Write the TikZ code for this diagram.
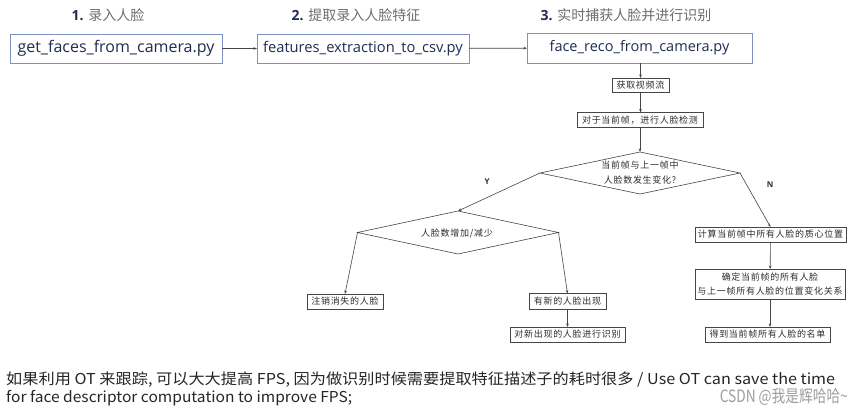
\documentclass[tikz,border=0pt]{standalone}
\usepackage{fontspec}
\usepackage{graphicx}
\setmainfont{Open Sans}
\newfontfamily\cjk{Noto Sans CJK SC}
\newfontfamily\cjkls[LetterSpace=8]{Noto Sans CJK SC}
\usetikzlibrary{arrows.meta,shapes.geometric}
\definecolor{navy}{RGB}{31,45,80}
\definecolor{boxblue}{RGB}{125,145,195}
\definecolor{labgray}{RGB}{110,110,110}
\definecolor{flowgray}{RGB}{70,70,70}
\definecolor{flowtext}{RGB}{45,45,45}
\tikzset{
  topbox/.style={draw=boxblue, line width=0.8pt, inner sep=0pt, outer sep=0pt, text=navy},
  toplab/.style={inner sep=0pt, font=\fontsize{14}{17}\selectfont},
  topconn/.style={draw=flowgray, line width=0.7pt, -{Stealth[length=3.5pt,width=2.6pt]}},
  fbox/.style={draw=flowgray, line width=0.6pt, inner sep=0pt, outer sep=0pt, text=flowtext, font=\cjkls\fontsize{9}{14}\selectfont, align=center},
  ftext/.style={inner sep=0pt, text=flowtext, font=\cjkls\fontsize{9}{15}\selectfont, align=center},
  fdia/.style={draw=flowgray, line width=0.6pt, diamond, inner sep=0pt, outer sep=0pt},
  conn/.style={draw=flowgray, line width=0.6pt, -{Stealth[length=3.5pt,width=2.6pt]}},
  yn/.style={inner sep=0pt, font=\bfseries\fontsize{8}{10}\selectfont, text=flowtext},
  note/.style={inner sep=0pt, anchor=west, text=black!85, font=\cjk\fontsize{15}{18}\selectfont}
}
\begin{document}
\begin{tikzpicture}[x=1pt,y=-1pt]
\useasboundingbox (0,0) rectangle (863,416);
\fill[white] (0,0) rectangle (863,416);

% top labels
\node[toplab] (t1) at (108,15) {{\bfseries\color{navy}1.} {\cjk\color{labgray}录入人脸}};
\node[toplab] (t2) at (356,15) {{\bfseries\color{navy}2.} {\cjk\color{labgray}提取录入人脸特征}};
\node[toplab] (t3) at (626,15) {{\bfseries\color{navy}3.} {\cjk\color{labgray}实时捕获人脸并进行识别}};

% top boxes
\node[topbox, minimum width=212pt, minimum height=29pt, font=\fontsize{16}{19}\selectfont] (b1) at (116,48.5) {get\_faces\_from\_camera.py};
\node[topbox, minimum width=212pt, minimum height=29pt, font=\fontsize{14.7}{18}\selectfont] (b2) at (363,48.5) {features\_extraction\_to\_csv.py};
\node[topbox, minimum width=225pt, minimum height=30pt, font=\fontsize{14.5}{18}\selectfont] (b3) at (639.5,48) {face\_reco\_from\_camera.py};
\draw[topconn] (b1) -- (b2);
\draw[topconn] (b2) -- (b3);

% flow chart
\node[fbox, minimum width=57pt, minimum height=14pt] (f1) at (640.5,85) {获取视频流};
\node[fbox, minimum width=126pt, minimum height=15pt] (f2) at (640,120) {对于当前帧，进行人脸检测};
\node[fdia, minimum width=200pt, minimum height=42pt] (d1) at (640,173) {};
\node[ftext] (d1t) at (640,172.5) {当前帧与上一帧中\\人脸数发生变化?};
\node[fdia, minimum width=201pt, minimum height=43pt] (d2) at (458,232.5) {};
\node[ftext] (d2t) at (457,233) {人脸数增加/减少};

\node[fbox, minimum width=76pt, minimum height=15pt] (l1) at (345,301.5) {注销消失的人脸};
\node[fbox, minimum width=77pt, minimum height=16pt] (m1) at (567.5,301.5) {有新的人脸出现};
\node[fbox, minimum width=115pt, minimum height=15pt] (m2) at (567.5,334.5) {对新出现的人脸进行识别};

\node[fbox, minimum width=151pt, minimum height=15pt] (r1) at (770.5,234.5) {计算当前帧中所有人脸的质心位置};
\node[fbox, minimum width=150pt, minimum height=30pt] (r2) at (770,284) {确定当前帧的所有人脸\\与上一帧所有人脸的位置变化关系};
\node[fbox, minimum width=125pt, minimum height=15pt] (r3) at (767.5,334.5) {得到当前帧所有人脸的名单};

\node[yn] (ly) at (487,182) {Y};
\node[yn] (ln) at (770,185) {N};

\draw[conn] (b3.south -| f1.north) -- (f1.north);
\draw[conn] (f1) -- (f1 |- f2.north);
\draw[conn] (f2) -- (d1.north);
\draw[conn] (d1.west) -- (d2.north);
\draw[conn] (d1.east) -- (r1.north);
\draw[conn] (d2.west) -- (l1.north);
\draw[conn] (d2.east) -- (m1.north);
\draw[conn] (m1) -- (m2);
\draw[conn] (r1) -- (r2);
\draw[conn] (r2.south) -- (r2.south |- r3.north);

% notes
\node[note] (n1) at (6,380) {\resizebox{829pt}{\height}{如果利用 OT 来跟踪, 可以大大提高 FPS, 因为做识别时候需要提取特征描述子的耗时很多 / Use OT can save the time}};
\node[note] (n2) at (6,398) {\resizebox{346pt}{\height}{for face descriptor computation to improve FPS;}};
\node[inner sep=0pt, anchor=east, text=black!38, font=\cjk\fontsize{17}{20}\selectfont] (wm) at (848,397) {\resizebox{128pt}{\height}{CSDN @我是辉哈哈\textasciitilde}};
\end{tikzpicture}
\end{document}
